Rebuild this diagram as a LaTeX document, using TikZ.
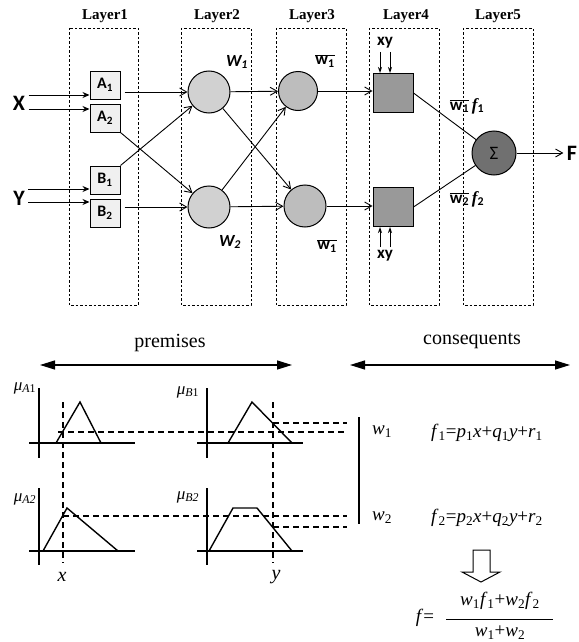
\documentclass[tikz,border=0pt]{standalone}
\usepackage{fontspec}
\setmainfont{Liberation Serif}
\newfontfamily\calibfont{Carlito}
\usetikzlibrary{arrows.meta}

\newcommand{\wbar}[1]{$\overline{\mbox{w\textsubscript{#1}}}$}
\newcommand{\fsub}[1]{{\rmfamily\itshape f}\textsubscript{#1}}

\begin{document}
\begin{tikzpicture}[x=1pt,y=-1pt,
    layer/.style={draw,dash pattern=on 2.5pt off 2pt,line width=0.7pt},
    layername/.style={font=\fontsize{15}{15}\selectfont\bfseries},
    inbox/.style={draw,line width=1pt,fill=gray!12,minimum width=30pt,minimum height=28pt,inner sep=0pt,
        font=\calibfont\bfseries\fontsize{16}{16}\selectfont},
    neuron/.style={circle,draw,line width=1pt,inner sep=0pt,minimum size=42pt},
    prodbox/.style={draw,line width=1pt,fill=gray!80,minimum width=40pt,minimum height=39pt,inner sep=0pt},
    lbl/.style={font=\calibfont\bfseries\fontsize{17}{17}\selectfont},
    inp/.style={font=\calibfont\bfseries\fontsize{22}{22}\selectfont},
    link/.style={-{Straight Barb[length=7pt,width=8pt]},line width=0.9pt},
    feed/.style={-{Stealth[length=7pt,width=6pt]},line width=1pt},
    axis/.style={line width=1.4pt},
    cut/.style={line width=1.3pt,dash pattern=on 6pt off 4pt},
    span/.style={{Triangle[length=15pt,width=9pt]}-{Triangle[length=15pt,width=9pt]},line width=1.3pt},
    tx/.style={font=\fontsize{19}{19}\selectfont}
]
\useasboundingbox (0,0) rectangle (578,642);

% layers
\draw[layer] (69,28) rectangle (138,305);
\draw[layer] (181,28) rectangle (251,305);
\draw[layer] (276,28) rectangle (346,305);
\draw[layer] (369,28) rectangle (439,305);
\draw[layer] (463,28) rectangle (533,305);
\node[layername] (l1) at (105,16) {Layer1};
\node[layername] (l2) at (217,16) {Layer2};
\node[layername] (l3) at (312,16) {Layer3};
\node[layername] (l4) at (406,16) {Layer4};
\node[layername] (l5) at (498,16) {Layer5};

% inputs and membership nodes
\node[inp] (X) at (19,103) {X};
\node[inp] (Y) at (19,198) {Y};
\node[inbox] (A1) at (105,85) {A\textsubscript{1}};
\node[inbox] (A2) at (105,118) {A\textsubscript{2}};
\node[inbox] (B1) at (105,180) {B\textsubscript{1}};
\node[inbox] (B2) at (105,213) {B\textsubscript{2}};

\draw[feed] ([yshift=8pt]X.east) -- ([yshift=-10pt]A1.west);
\draw[feed] ([yshift=-6pt]X.east) -- ([yshift=9pt]A2.west);
\draw[feed] ([yshift=9pt]Y.east) -- ([yshift=-9pt]B1.west);
\draw[feed] ([yshift=-4pt]Y.east) -- ([yshift=11pt]B2.west);

% rule firing
\node[neuron,fill=gray!36] (n21) at (209,92) {};
\node[neuron,fill=gray!36] (n22) at (209,207) {};
\node[neuron,fill=gray!52,minimum size=39pt] (n31) at (298,91) {};
\node[neuron,fill=gray!52] (n32) at (305,206) {};
\node[prodbox] (s1) at (393,93) {};
\node[prodbox] (s2) at (393,207) {};
\node[neuron,fill=black!56,minimum size=44pt,font=\calibfont\fontsize{19}{19}\selectfont] (sig) at (494,153) {Σ};
\node[inp] (F) at (572,153) {F};

\node[lbl,font=\calibfont\bfseries\itshape\fontsize{17}{17}\selectfont] (w1) at (237,62) {W\textsubscript{1}};
\node[lbl,font=\calibfont\bfseries\itshape\fontsize{17}{17}\selectfont] (w2) at (230,242) {W\textsubscript{2}};
\node[lbl] (wn1) at (325,61) {\wbar{1}};
\node[lbl] (wn2) at (327,246) {\wbar{1}};
\node[lbl] (xy1) at (385,43) {xy};
\node[lbl] (xy2) at (385,256) {xy};
\node[lbl] (o1) at (467,106) {\wbar{1}\,\fsub{1}};
\node[lbl] (o2) at (467,199) {\wbar{2}\,\fsub{2}};

\draw[link,shorten <=4pt] (A1.east |- n21) -- (n21);
\draw[link] (A2.south east) -- (n22);
\draw[link] (B1.north east) -- (n21);
\draw[link,shorten <=4pt] (B2.east |- n22) -- (n22);
\draw[link] (n21) -- (n31);
\draw[link] (n21) -- (n32);
\draw[link] (n22) -- (n31);
\draw[link] (n22) -- (n32);
\draw[link] (n31.east) -- (s1.west |- n31.east);
\draw[link] (n32.east) -- (s2.west |- n32.east);
\draw[line width=0.9pt] (s1.east) -- (sig);
\draw[line width=0.9pt] (s2.east) -- (sig);
\draw[link] (sig.east) -- (F.west);

\draw[feed,-{Stealth[length=6pt,width=4pt]}] ([xshift=-5pt]xy1.south) -- ([xshift=-5pt]xy1.south |- s1.north);
\draw[feed,-{Stealth[length=6pt,width=4pt]}] ([xshift=5pt]xy1.south) -- ([xshift=5pt]xy1.south |- s1.north);
\draw[feed,-{Stealth[length=6pt,width=4pt]}] ([xshift=-5pt]xy2.north) -- ([xshift=-5pt]xy2.north |- s2.south);
\draw[feed,-{Stealth[length=6pt,width=4pt]}] ([xshift=5pt]xy2.north) -- ([xshift=5pt]xy2.north |- s2.south);

% fuzzy reasoning
\node[font=\fontsize{20}{20}\selectfont] (prem) at (170,343) {premises};
\node[font=\fontsize{20}{20}\selectfont] (cons) at (472,341) {consequents};
\draw[span] (40,365) -- (292,365);
\draw[span] (350,365) -- (570,365);

% membership functions
\draw[axis] (39,388) -- (39,458) (29,443) -- (135,443);
\draw[axis] (56,443) -- (80,402) -- (101,443);
\draw[axis] (207,388) -- (207,458) (197,443) -- (303,443);
\draw[axis] (228,443) -- (252,402) -- (292,443);
\draw[axis] (39,488) -- (39,565) (29,551) -- (135,551);
\draw[axis] (43,551) -- (67,508) -- (118,551);
\draw[axis] (207,488) -- (207,565) (197,551) -- (303,551);
\draw[axis] (209,551) -- (233,508) -- (257,508) -- (292,551);

\draw[cut] (63,402) -- (63,563);
\draw[cut] (273,402) -- (273,563);
\draw[cut] (58,432) -- (347,432);
\draw[cut] (273,423) -- (347,423);
\draw[cut] (63,516) -- (347,516);
\draw[cut] (273,527) -- (347,527);
\draw[line width=1.4pt] (359,417) -- (359,524);

\node[font=\fontsize{17}{17}\selectfont] (mA1) at (25,388) {\textit{μ}\textsubscript{\textit{A}1}};
\node[font=\fontsize{17}{17}\selectfont] (mB1) at (188,392) {\textit{μ}\textsubscript{\textit{B}1}};
\node[font=\fontsize{17}{17}\selectfont] (mA2) at (25,499) {\textit{μ}\textsubscript{\textit{A2}}};
\node[font=\fontsize{17}{17}\selectfont] (mB2) at (188,497) {\textit{μ}\textsubscript{\textit{B2}}};
\node[tx,font=\fontsize{20}{20}\selectfont] (xin) at (62,577) {\textit{x}};
\node[tx,font=\fontsize{20}{20}\selectfont] (yin) at (276,577) {\textit{y}};

\node[tx] (r1) at (382,432) {\textit{w}\textsubscript{1}};
\node[tx] (r2) at (382,518) {\textit{w}\textsubscript{2}};
\node[tx] (f1) at (487,433) {\textit{f}\textsubscript{1}=\textit{p}\textsubscript{1}\textit{x}+\textit{q}\textsubscript{1}\textit{y}+\textit{r}\textsubscript{1}};
\node[tx] (f2) at (487,518) {\textit{f}\textsubscript{2}=\textit{p}\textsubscript{2}\textit{x}+\textit{q}\textsubscript{2}\textit{y}+\textit{r}\textsubscript{2}};

\draw[line width=1pt] (473,550) -- (473,572) -- (462,572) -- (481,582) -- (500,572) -- (490,572) -- (490,550) -- cycle;

\node[tx] (feq) at (425,618) {\textit{f}=};
\node[tx] (num) at (500,601) {\textit{w}\textsubscript{1}\textit{f}\textsubscript{1}+\textit{w}\textsubscript{2}\textit{f}\textsubscript{2}};
\node[tx] (den) at (500,633) {\textit{w}\textsubscript{1}+\textit{w}\textsubscript{2}};
\draw[line width=1pt] (446,619) -- (553,619);
\end{tikzpicture}
\end{document}
